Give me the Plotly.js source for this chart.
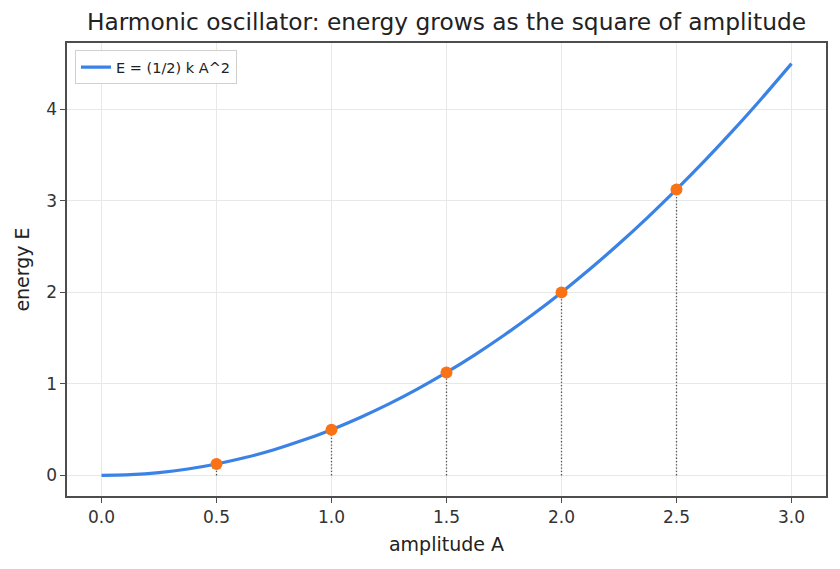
<!DOCTYPE html>
<html>
<head>
<meta charset="utf-8">
<script src="https://cdn.plot.ly/plotly-3.0.1.min.js"></script>
<style>html,body{margin:0;padding:0;background:#fff;}#chart{width:840px;height:569px;}</style>
</head>
<body>
<div id="chart"></div>
<script>
// Energy curve E = (1/2) k A^2 with k = 1, sampled every 0.125 in amplitude
const amplitude = [0, 0.125, 0.25, 0.375, 0.5, 0.625, 0.75, 0.875, 1.0, 1.125, 1.25, 1.375, 1.5,
                   1.625, 1.75, 1.875, 2.0, 2.125, 2.25, 2.375, 2.5, 2.625, 2.75, 2.875, 3.0];
const energy = [0, 0.008, 0.031, 0.070, 0.125, 0.195, 0.281, 0.383, 0.5, 0.633, 0.781, 0.945, 1.125,
                1.320, 1.531, 1.758, 2.0, 2.258, 2.531, 2.820, 3.125, 3.445, 3.781, 4.133, 4.5];

// Highlighted sample amplitudes and their energies
const markA = [0.5, 1.0, 1.5, 2.0, 2.5];
const markE = [0.125, 0.5, 1.125, 2.0, 3.125];

const xTicks = [0, 0.5, 1.0, 1.5, 2.0, 2.5, 3.0];
const xTickText = ['0.0', '0.5', '1.0', '1.5', '2.0', '2.5', '3.0'];
const yTicks = [0, 1, 2, 3, 4];

// Vertical drop lines from the axis up to each marked point
const dropX = [], dropY = [];
markA.forEach((a, i) => { dropX.push(a, a, null); dropY.push(0, markE[i], null); });

const font = 'DejaVu Sans, sans-serif';
const ink = '#333333';
const frame = '#4d4d4d';

const traces = [
  {
    x: dropX, y: dropY, mode: 'lines', showlegend: false, hoverinfo: 'skip',
    line: {color: '#555555', width: 1.3, dash: '1.3px,2px'}
  },
  {
    x: amplitude, y: energy, mode: 'lines', name: 'E = (1/2) k A^2',
    line: {color: '#3b82e6', width: 3.2, shape: 'spline', smoothing: 0.6}
  },
  {
    x: markA, y: markE, mode: 'markers', showlegend: false,
    marker: {color: '#f97316', size: 12}
  }
];

const axisCommon = {
  showline: true, mirror: true, linecolor: frame, linewidth: 1.6,
  ticks: 'outside', ticklen: 5, tickwidth: 1.2, tickcolor: frame,
  showgrid: true, gridcolor: '#e8e8e8', gridwidth: 1, zeroline: false,
  tickfont: {family: font, size: 17, color: ink}, automargin: false
};

const layout = {
  width: 840, height: 569,
  margin: {l: 67, r: 14, t: 43, b: 73},
  paper_bgcolor: '#ffffff', plot_bgcolor: '#ffffff',
  font: {family: font, color: ink},
  title: {
    text: 'Harmonic oscillator: energy grows as the square of amplitude',
    font: {family: font, size: 23.3, color: '#222222'},
    x: 0.5, xref: 'paper', xanchor: 'center', y: 1 - 22 / 569, yref: 'container', yanchor: 'middle'
  },
  xaxis: Object.assign({}, axisCommon, {
    range: [-0.15, 3.15], tickvals: xTicks, ticktext: xTickText,
    title: {text: 'amplitude A', font: {family: font, size: 19, color: '#222222'}, standoff: 11}
  }),
  yaxis: Object.assign({}, axisCommon, {
    range: [-0.225, 4.725], tickvals: yTicks,
    title: {text: 'energy E', font: {family: font, size: 19, color: '#222222'}, standoff: 11}
  }),
  legend: {
    x: 0.0105, y: 0.984, xanchor: 'left', yanchor: 'top',
    bgcolor: 'rgba(255,255,255,0.9)', bordercolor: '#d0d0d0', borderwidth: 1,
    font: {family: font, size: 14.5, color: '#222222'}, tracegroupgap: 0
  },
  showlegend: true
};

Plotly.newPlot('chart', traces, layout, {displayModeBar: false, staticPlot: true});
</script>
</body>
</html>
